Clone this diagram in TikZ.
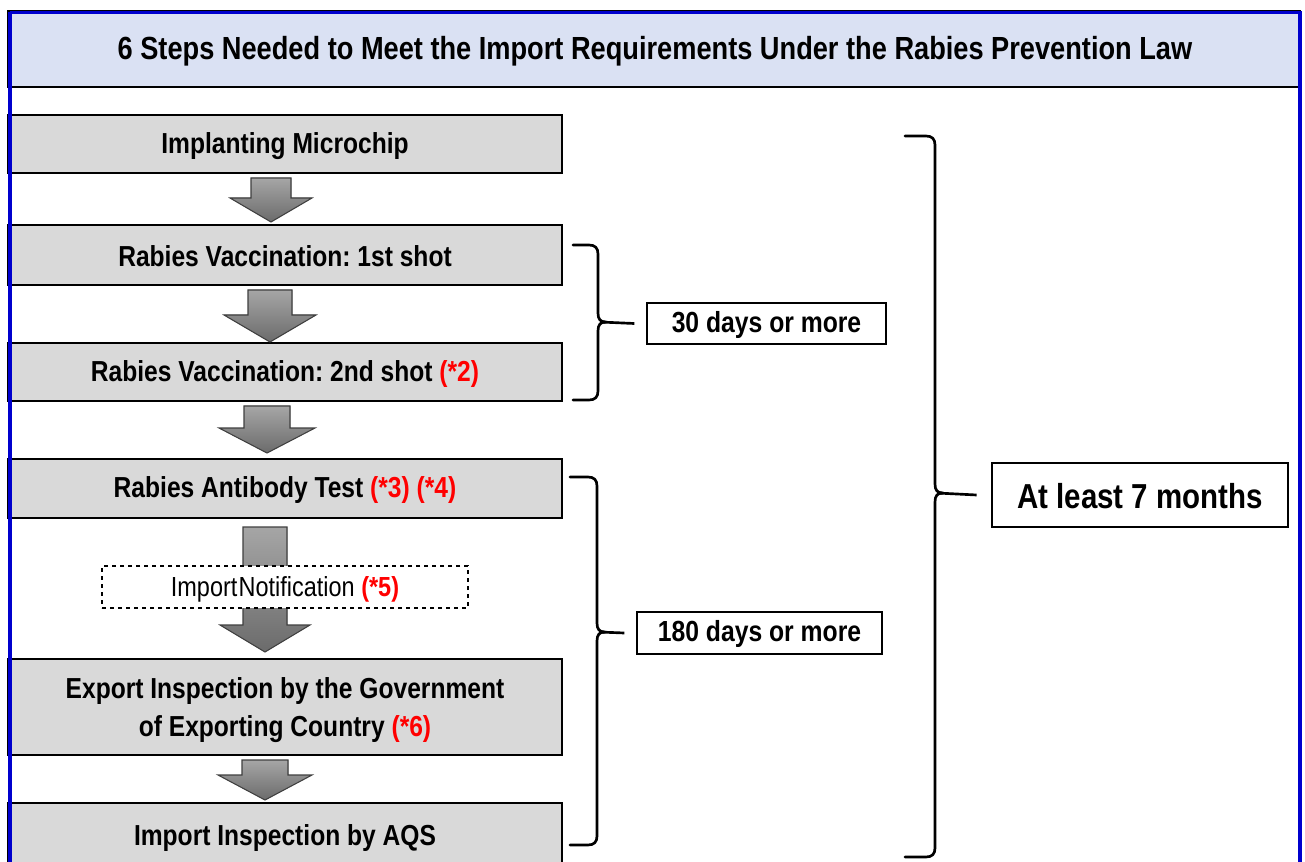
\documentclass[tikz,border=0pt]{standalone}
\usepackage{fontspec}
\setmainfont[FakeStretch=0.85]{Liberation Sans}
\usetikzlibrary{calc}
\definecolor{titlefill}{RGB}{218,225,243}
\definecolor{boxgray}{RGB}{217,217,217}
\definecolor{frameblue}{RGB}{0,0,205}
\definecolor{notered}{RGB}{255,0,0}
\frenchspacing
\newcommand{\red}[1]{\textcolor{notered}{#1}}
\newcommand{\blockarrow}[6]{%
  \filldraw[arrowshape] ({#1-#5},#2) -- ({#1+#5},#2) -- ({#1+#5},#3) -- ({#1+#6},#3) -- (#1,#4) -- ({#1-#6},#3) -- ({#1-#5},#3) -- cycle;}
\newcommand{\drawbrace}[5]{% left x, vertical x, top y, mid y, bottom y
  \draw[bracestyle] (#1,#3) -- ({#2-9},#3) .. controls ({#2-3},#3) and (#2,{#3+3}) .. (#2,{#3+9})
    -- (#2,{#4-9}) .. controls (#2,{#4-3}) and ({#2+2},#4) .. ({#2+8},#4)
    .. controls ({#2+2},#4) and (#2,{#4+3}) .. (#2,{#4+9})
    -- (#2,{#5-9}) .. controls (#2,{#5-3}) and ({#2-3},#5) .. ({#2-9},#5) -- (#1,#5);}
\begin{document}
\begin{tikzpicture}[x=0.75pt,y=-0.75pt,
  stepbox/.style={draw=black, line width=1.5pt, fill=boxgray, minimum width=415.5pt, inner sep=0pt},
  steptext/.style={inner sep=0pt, font=\fontsize{21.7}{28.5}\selectfont\bfseries, align=center},
  arrowshape/.style={draw=black!75, line width=0.8pt, top color=black!35, bottom color=black!58},
  bracestyle/.style={line width=2pt, line cap=round, line join=round},
  daybox/.style={draw=black, line width=1pt, fill=white, inner sep=0pt},
  daytext/.style={inner sep=0pt, font=\fontsize{21.8}{26}\selectfont\bfseries},
  tick/.style={line width=2pt}]
\clip (0,0) rectangle (1305,862);
\fill[white] (0,0) rectangle (1305,862);
% title band
\node[draw=black, line width=1.5pt, fill=titlefill, minimum width=969pt, minimum height=57pt, inner sep=0pt] (title) at (654,49) {};
\node[inner sep=0pt, font=\fontsize{24}{28}\selectfont\bfseries] (titletext) at (655,51) {6 Steps Needed to Meet the Import Requirements Under the Rabies Prevention Law};
% steps
\node[stepbox, minimum height=43.5pt] (s1) at (285,144) {};
\node[steptext] (s1t) at (285,146) {Implanting Microchip};
\node[stepbox, minimum height=45pt] (s2) at (285,255) {};
\node[steptext] (s2t) at (285,256) {Rabies Vaccination: 1st shot};
\node[stepbox, minimum height=43.5pt] (s3) at (285,372) {};
\node[steptext] (s3t) at (285,374) {Rabies Vaccination: 2nd shot \red{(*2)}};
\node[stepbox, minimum height=44.25pt] (s4) at (285,488.5) {};
\node[steptext] (s4t) at (285,490) {Rabies Antibody Test \red{(*3) (*4)}};
\node[stepbox, minimum height=72pt] (s5) at (285,707) {};
\node[steptext] (s5t) at (285,710) {Export Inspection by the Government\\of Exporting Country \red{(*6)}};
\node[stepbox, minimum height=51pt] (s6) at (285,837) {};
\node[steptext] (s6t) at (285,838) {Import Inspection by AQS};
% block arrows
\blockarrow{271}{178}{198}{222}{20}{41}
\blockarrow{270}{290}{315}{342}{22}{46}
\blockarrow{267}{406}{428}{453}{23}{48}
\blockarrow{265}{527}{625}{652}{22}{45}
\blockarrow{265}{760}{775}{800}{23}{47}
% notification
\node[draw=black, dashed, line width=0.8pt, fill=white, minimum width=274.5pt, minimum height=31.5pt, inner sep=0pt] (note) at (285,587) {};
\node[inner sep=0pt, font=\fontsize{20.7}{24}\selectfont] (notet) at (285,589) {Import\kern1pt Notification \red{\bfseries(*5)}};
% day boxes
\node[daybox, minimum width=179.25pt, minimum height=30.75pt] (d30) at (766.5,323.5) {};
\node[daytext] (d30t) at (766.5,325) {30 days or more};
\node[daybox, minimum width=183.75pt, minimum height=31.5pt] (d180) at (759.5,633) {};
\node[daytext] (d180t) at (759.5,634) {180 days or more};
\node[daybox, line width=2pt, minimum width=222pt, minimum height=48pt] (m7) at (1140,495) {};
\node[inner sep=0pt, font=\fontsize{26}{30}\selectfont\bfseries] (m7t) at (1140,496) {At least 7 months};
% braces
\drawbrace{573}{598}{245}{322}{400}
\coordinate (t30) at (600,322);
\draw[tick] (t30) -- ($(d30.west)+(-12,0)$);
\drawbrace{570}{597}{477}{632}{845}
\coordinate (t180) at (599,632);
\draw[tick] (t180) -- ($(d180.west)+(-12,0)$);
\drawbrace{905}{935}{136}{493}{857}
\coordinate (t7) at (937,493);
\draw[tick] (t7) -- ($(m7.west)+(-14,0)$);
% outer frame
\draw[frameblue, line width=2.5pt] (10,12.5) -- (1300,12.5) -- (1300,900) (10,12.5) -- (10,900);
\end{tikzpicture}
\end{document}
